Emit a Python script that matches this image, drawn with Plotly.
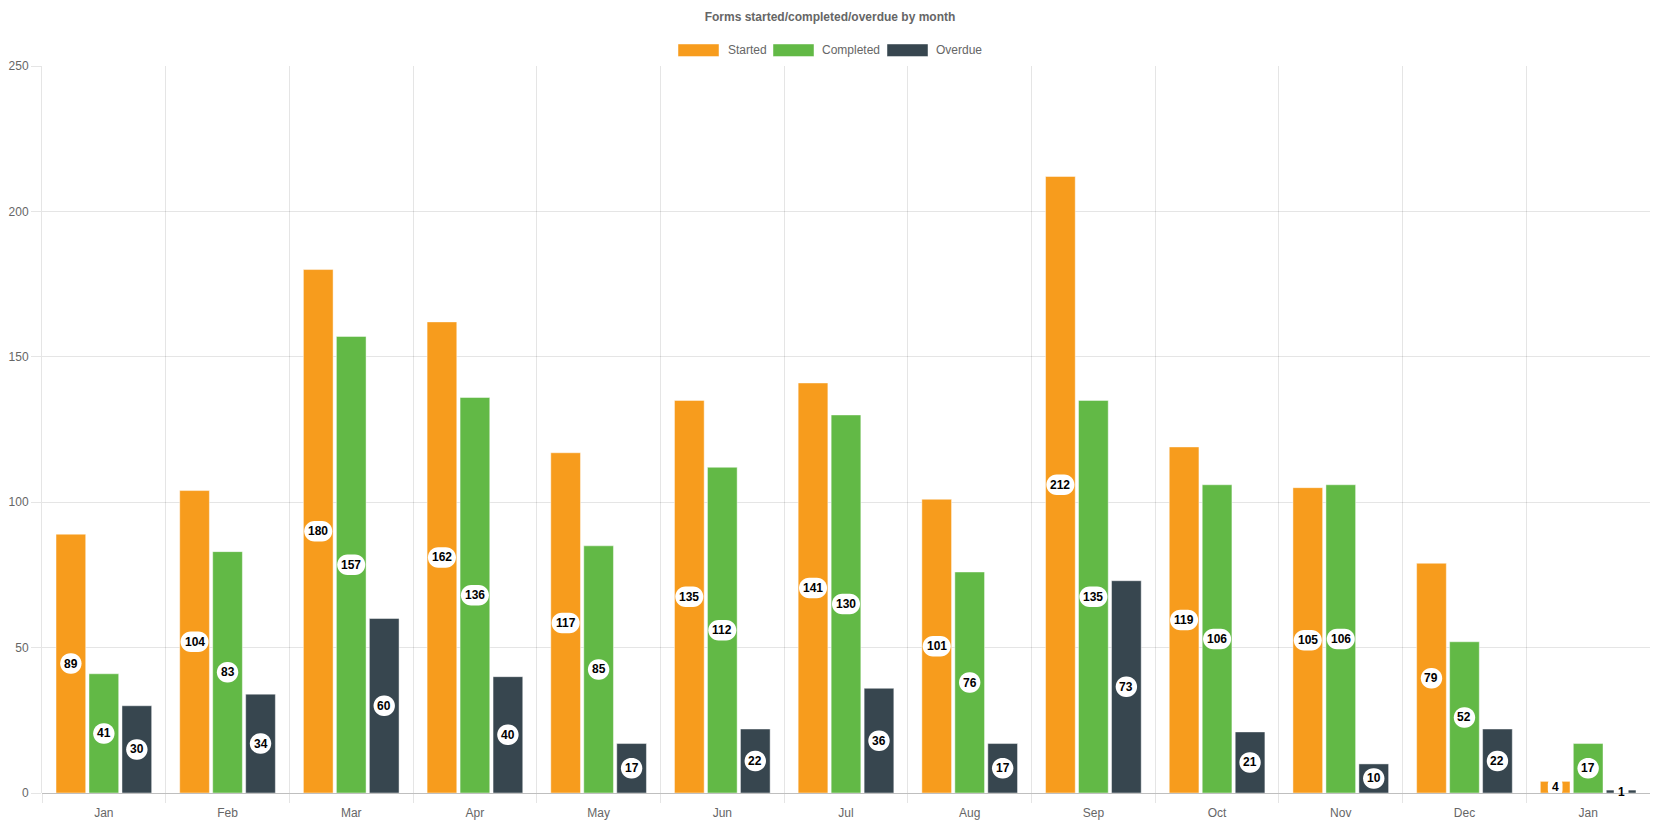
import plotly.graph_objects as go

months = ["Jan", "Feb", "Mar", "Apr", "May", "Jun", "Jul", "Aug", "Sep", "Oct", "Nov", "Dec", "Jan"]
started = [89, 104, 180, 162, 117, 135, 141, 101, 212, 119, 105, 79, 4]
completed = [41, 83, 157, 136, 85, 112, 130, 76, 135, 106, 106, 52, 17]
overdue = [30, 34, 60, 40, 17, 22, 36, 17, 73, 21, 10, 22, 1]

series = [
    ("Started", started, "#F79C1D"),
    ("Completed", completed, "#62B946"),
    ("Overdue", overdue, "#37464F"),
]

FONT = "Liberation Sans, Arial, Helvetica, sans-serif"
GRID = "rgba(0,0,0,0.1)"
TXT = "#666666"

x = list(range(len(months)))
BARGAP = 0.2
slot = (1 - BARGAP) / len(series)

fig = go.Figure()
for name, vals, col in series:
    fig.add_trace(go.Bar(
        x=x, y=vals, name=name,
        marker=dict(color=col, line=dict(color="rgba(255,255,255,0.45)", width=1)),
        hoverinfo="x+y+name",
    ))

shapes = []
annotations = []


def pill_path(w, h):
    r = min(h / 2, w / 2)
    k = 0.5523 * r
    x0, x1, y0, y1 = -w / 2, w / 2, -h / 2, h / 2
    p = (
        f"M {x0 + r},{y0} H {x1 - r} "
        f"C {x1 - r + k},{y0} {x1},{y0 + r - k} {x1},{y0 + r} "
        f"V {y1 - r} "
        f"C {x1},{y1 - r + k} {x1 - r + k},{y1} {x1 - r},{y1} "
        f"H {x0 + r} "
        f"C {x0 + r - k},{y1} {x0},{y1 - r + k} {x0},{y1 - r} "
        f"V {y0 + r} "
        f"C {x0},{y0 + r - k} {x0 + r - k},{y0} {x0 + r},{y0} Z"
    )
    return p


# data labels: white rounded boxes centered in each bar
for k, (name, vals, col) in enumerate(series):
    off = (k - (len(series) - 1) / 2) * slot
    for i, v in enumerate(vals):
        cx = i + off
        cy = v / 2
        w = len(str(v)) * 6.7 + 8
        shapes.append(dict(
            type="path", xref="x", yref="y",
            xsizemode="pixel", ysizemode="pixel",
            xanchor=cx, yanchor=cy,
            path=pill_path(w, 20.5),
            fillcolor="white", line=dict(width=0), layer="above",
        ))
        annotations.append(dict(
            x=cx, y=cy, xref="x", yref="y", text=f"<b>{v}</b>",
            showarrow=False, xanchor="center", yanchor="middle",
            font=dict(family=FONT, size=12, color="#000000"),
        ))

# custom legend (wide boxes as in the reference)
PLOT_L, PLOT_T, PLOT_W, PLOT_H = 42, 66, 1608, 727
legend_items = [(678, 725.5), (773, 820), (887, 934)]
for (bx, tx), (name, vals, col) in zip(legend_items, series):
    shapes.append(dict(
        type="rect", xref="paper", yref="paper",
        xsizemode="pixel", ysizemode="pixel",
        xanchor=0, yanchor=1,
        x0=bx - PLOT_L, x1=bx - PLOT_L + 41,
        y0=PLOT_T - 44, y1=PLOT_T - 56.5,
        fillcolor=col, line=dict(color="rgba(255,255,255,0.45)", width=1),
    ))
    annotations.append(dict(
        x=(tx - PLOT_L) / PLOT_W, y=1 + (PLOT_T - 50) / PLOT_H,
        xref="paper", yref="paper", text=name, showarrow=False,
        xanchor="left", yanchor="middle",
        font=dict(family=FONT, size=12, color=TXT),
    ))

fig.update_layout(
    width=1660, height=825,
    margin=dict(l=42, r=10, t=66, b=32, autoexpand=False),
    paper_bgcolor="white", plot_bgcolor="white",
    barmode="group", bargap=BARGAP, bargroupgap=0.1,
    showlegend=False,
    font=dict(family=FONT, size=12, color=TXT),
    title=dict(
        text="<b>Forms started/completed/overdue by month</b>",
        x=0.5, xref="container", xanchor="center",
        y=1 - 17 / 825, yref="container", yanchor="middle",
        font=dict(family=FONT, size=12, color=TXT),
    ),
    shapes=shapes,
    annotations=annotations,
    xaxis=dict(
        range=[-0.5, len(months) - 0.5],
        tickmode="array", tickvals=x, ticktext=months,
        showgrid=False, zeroline=False, automargin=False,
        ticks="outside", ticklen=9, tickcolor="rgba(0,0,0,0)",
        tickfont=dict(family=FONT, size=12, color=TXT),
        showline=False,
        minor=dict(
            tickmode="array",
            tickvals=[i - 0.5 for i in x],
            showgrid=True, gridcolor=GRID, gridwidth=1,
            ticks="outside", ticklen=9, tickcolor=GRID, tickwidth=1,
        ),
    ),
    yaxis=dict(
        range=[0, 250], tickmode="linear", tick0=0, dtick=50,
        automargin=False,
        showgrid=True, gridcolor=GRID, gridwidth=1,
        zeroline=True, zerolinecolor="rgba(0,0,0,0.25)", zerolinewidth=1,
        ticks="outside", ticklen=10, tickcolor=GRID, tickwidth=1,
        showline=True, linecolor=GRID, linewidth=1,
        tickfont=dict(family=FONT, size=12, color=TXT),
    ),
)

fig.write_html("out.html")
